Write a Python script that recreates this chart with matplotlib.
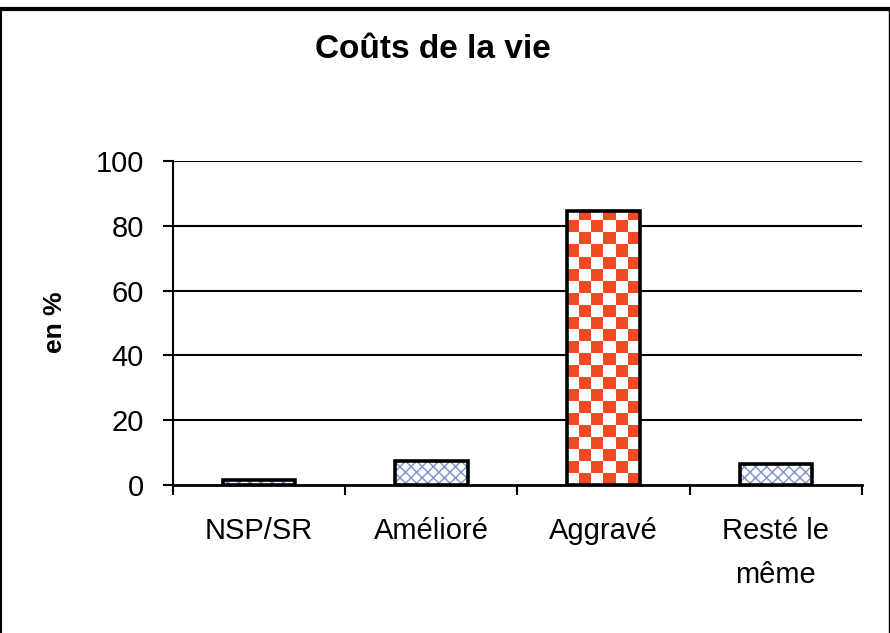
import numpy as np
from matplotlib import pyplot as plt

categories = ["NSP/SR", "Amélioré", "Aggravé", "Resté le\nmême"]
values = [1.5, 7.4, 84.6, 6.5]
patterns = ["blue", "blue", "checker", "blue"]
yticks = [0, 20, 40, 60, 80, 100]

plt.rcParams['font.family'] = ['Liberation Sans', 'DejaVu Sans']

fig = plt.figure(figsize=(8.9, 6.33), dpi=100)
ax = fig.add_axes([0.1944, 0.2338, 0.774, 0.512])

x = np.arange(len(categories))
width = 0.42
ax.set_xlim(-0.5, len(categories) - 0.5)
ax.set_ylim(0, 100)

for yt in yticks[1:]:
    ax.axhline(yt, color="black", linewidth=1.5, zorder=1)

for xi, v, p in zip(x, values, patterns):
    if p == "checker":
        base = ax.bar(xi, v, width, color="white", edgecolor="none", zorder=2)[0]
        nx = 6
        ny = int(round(v / 3.7))
        board = np.indices((ny, nx)).sum(axis=0) % 2
        cmap = plt.matplotlib.colors.ListedColormap(["white", "#F04B23"])
        im = ax.imshow(board, cmap=cmap, extent=[xi - width / 2, xi + width / 2, 0, ny * 3.7],
                       origin="lower", aspect="auto", interpolation="nearest", zorder=3)
        im.set_clip_path(base)
    else:
        ax.bar(xi, v, width, color="white", edgecolor="#7F8FCB", hatch="xxx",
               linewidth=0, zorder=2)
    ax.bar(xi, v, width, color="none", edgecolor="black", linewidth=2.6, zorder=4)

ax.set_yticks(yticks)
ax.set_yticklabels([str(t) for t in yticks], fontsize=21)
ax.set_xticks(x)
ax.set_xticklabels(categories, fontsize=21, linespacing=1.72, va="top")
ax.set_xticks(np.arange(len(categories) + 1) - 0.5, minor=True)
ax.tick_params(axis="x", which="major", length=0, pad=23)
ax.tick_params(axis="x", which="minor", length=7, width=1.5, direction="out")
ax.tick_params(axis="y", length=7, width=1.5, direction="out", pad=14)

for s in ["top", "right"]:
    ax.spines[s].set_visible(False)
ax.spines["left"].set_linewidth(1.5)
ax.spines["bottom"].set_linewidth(2)
ax.spines["left"].set_zorder(5)
ax.spines["bottom"].set_zorder(5)

fig.text(0.0618, 0.4913, "en %", fontsize=19, fontweight="bold", rotation=90,
         ha="center", va="center")
fig.text(0.486, 0.9084, "Coûts de la vie", fontsize=24, fontweight="bold",
         ha="center", va="baseline")

# frame around the chart
fig.add_artist(plt.Line2D([0, 1], [0.986, 0.986], transform=fig.transFigure, color="black", linewidth=3))
fig.add_artist(plt.Line2D([0.001, 0.001], [0, 0.986], transform=fig.transFigure, color="black", linewidth=1.5))
fig.add_artist(plt.Line2D([0.999, 0.999], [0, 0.986], transform=fig.transFigure, color="black", linewidth=1))

fig.savefig("out.png", dpi=100)
